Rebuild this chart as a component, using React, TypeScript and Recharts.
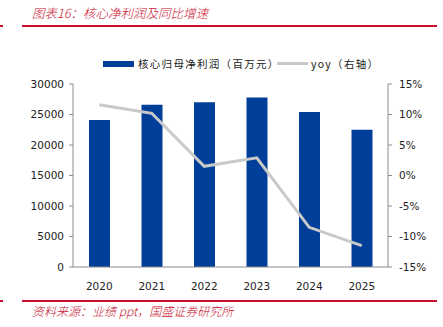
import React from "react";
import { ComposedChart, Bar, Line, XAxis, YAxis } from "recharts";

const years = ["2020", "2021", "2022", "2023", "2024", "2025"];
const coreProfit = [24100, 26600, 27000, 27800, 25400, 22500];
const yoy = [11.6, 10.2, 1.5, 2.9, -8.5, -11.5];
const leftTicks = [0, 5000, 10000, 15000, 20000, 25000, 30000];
const rightTicks = [-15, -10, -5, 0, 5, 10, 15];

const data = years.map((y, i) => ({ year: y, profit: coreProfit[i], yoy: yoy[i] }));

const RED = "#c8102e";
const BLUE = "#003f99";
const GREY = "#c9c9c9";
const AXIS = "#8c8c8c";
const FONT = "'DejaVu Sans', Verdana, sans-serif";
const CJK = "'Noto Sans CJK SC', sans-serif";

export default function App() {
  return (
    <div style={{ position: "absolute", left: 0, top: 0, width: 443, height: 327, background: "#fff", overflow: "hidden" }}>
      <div style={{ position: "absolute", left: 32, top: 3, fontFamily: CJK, fontStyle: "italic", fontWeight: 300, fontSize: 12.5, color: RED, whiteSpace: "nowrap" }}>
        图表16：核心净利润及同比增速
      </div>
      <div style={{ position: "absolute", left: 0, top: 25, width: 3, height: 2, background: RED }} />
      <div style={{ position: "absolute", left: 22, top: 25, width: 415, height: 2, background: RED }} />

      <div style={{ position: "absolute", left: 103, top: 61, width: 31, height: 6, background: BLUE }} />
      <div style={{ position: "absolute", left: 138, top: 56, fontFamily: CJK, fontSize: 10.5, letterSpacing: 1.3, color: "#222", whiteSpace: "nowrap" }}>
        核心归母净利润（百万元）
      </div>
      <div style={{ position: "absolute", left: 277, top: 62, width: 31, height: 3, background: GREY }} />
      <div style={{ position: "absolute", left: 311, top: 56, fontFamily: CJK, fontSize: 10.5, letterSpacing: 1.3, color: "#222", whiteSpace: "nowrap" }}>
        yoy（右轴）
      </div>

      <div style={{ position: "absolute", left: 0, top: 0 }}>
        <ComposedChart width={443} height={327} data={data} margin={{ top: 84, right: 0, bottom: 35, left: 0 }} barCategoryGap="30%">
          <XAxis
            dataKey="year"
            height={25}
            tick={{ fontFamily: FONT, fontSize: 10.5, fill: "#222" }}
            tickLine={false}
            tickMargin={10}
            axisLine={{ stroke: AXIS }}
          />
          <YAxis
            yAxisId="left"
            width={73}
            domain={[0, 30000]}
            ticks={leftTicks}
            tick={{ fontFamily: FONT, fontSize: 10.5, fill: "#222" }}
            tickLine={{ stroke: AXIS }}
            tickSize={4}
            tickMargin={5}
            axisLine={{ stroke: AXIS }}
            interval={0}
          />
          <YAxis
            yAxisId="right"
            orientation="right"
            width={55}
            domain={[-15, 15]}
            ticks={rightTicks}
            tickFormatter={(v: number) => `${v}%`}
            tick={{ fontFamily: FONT, fontSize: 10.5, fill: "#222" }}
            tickLine={{ stroke: AXIS }}
            tickSize={4}
            tickMargin={7}
            axisLine={{ stroke: AXIS }}
            interval={0}
          />
          <Bar yAxisId="left" dataKey="profit" fill={BLUE} barSize={21} isAnimationActive={false} />
          <Line yAxisId="right" dataKey="yoy" stroke={GREY} strokeWidth={3} dot={false} activeDot={false} isAnimationActive={false} />
        </ComposedChart>
      </div>

      <div style={{ position: "absolute", left: 0, top: 300, width: 3, height: 2, background: RED }} />
      <div style={{ position: "absolute", left: 22, top: 300, width: 415, height: 2, background: RED }} />
      <div style={{ position: "absolute", left: 32, top: 302, fontFamily: CJK, fontStyle: "italic", fontWeight: 300, fontSize: 12, color: RED, whiteSpace: "nowrap" }}>
        资料来源：业绩 ppt，国盛证券研究所
      </div>
    </div>
  );
}
